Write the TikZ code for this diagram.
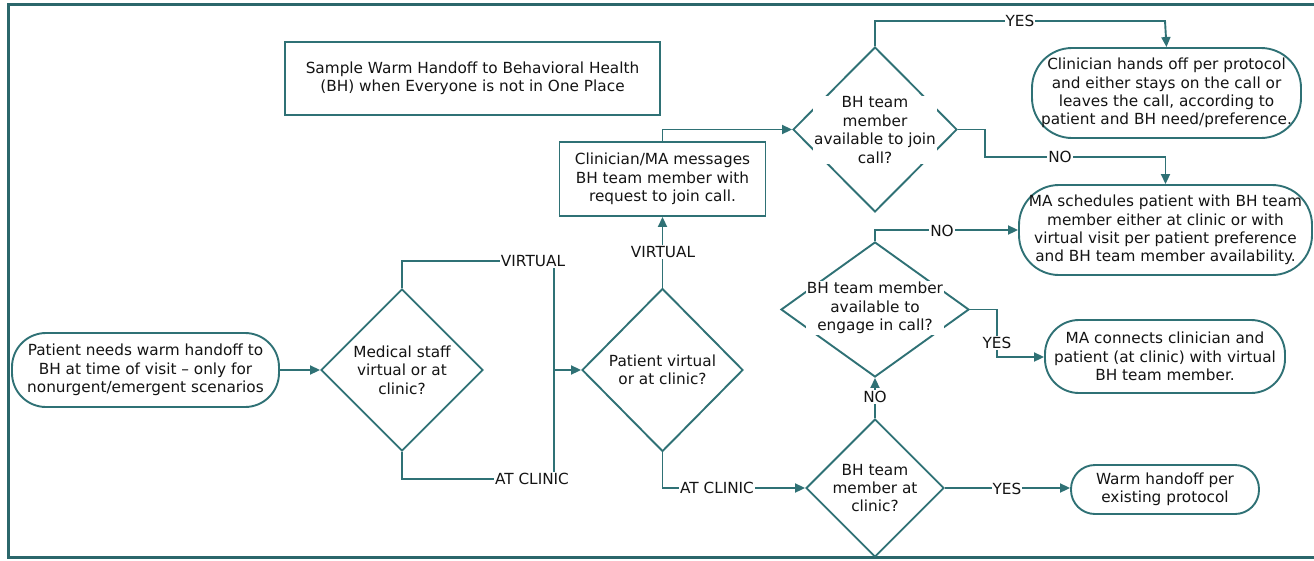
\documentclass[tikz,border=0pt]{standalone}
\usepackage{fontspec}
\setmainfont{DejaVu Sans}
\usetikzlibrary{shapes.geometric,arrows.meta}
\definecolor{teal1}{HTML}{2F7175}
\definecolor{frameC}{HTML}{2B676B}
\definecolor{txt}{HTML}{141414}
\begin{document}
\begin{tikzpicture}[x=1pt,y=-1pt,
  every node/.style={font=\fontsize{15.3}{18.4}\selectfont, text=txt, align=center},
  line/.style={draw=teal1, line width=1.9pt},
  arr/.style={line, -{Triangle[length=10pt,width=9pt]}},
  pill/.style={draw=teal1, line width=1.9pt, rounded corners=#1, inner sep=0pt, fill=white},
  boxx/.style={draw=teal1, line width=1.9pt, inner sep=0pt, fill=white},
  dia/.style={draw=teal1, line width=1.9pt, diamond, inner sep=0pt, fill=white},
  dtext/.style={fill=white, inner sep=1pt},
  lab/.style={fill=white, inner sep=1pt}]
\useasboundingbox (0,0) rectangle (1314,560);
\draw[draw=frameC, line width=3pt] (8,4) rectangle (1330,557);

% title
\node[boxx, minimum width=375pt, minimum height=73pt] (title) at (472.5,78.5)
  {Sample Warm Handoff to Behavioral Health\\(BH) when Everyone is not in One Place};

% pills
\node[pill=34pt, minimum width=267pt, minimum height=74pt] (start) at (145.5,370)
  {Patient needs warm handoff to\\BH at time of visit -- only for\\nonurgent/emergent scenarios};
\node[pill=40pt, minimum width=269pt, minimum height=90pt] (pa) at (1166.5,93)
  {Clinician hands off per protocol\\and either stays on the call or\\leaves the call, according to\\patient and BH need/preference.};
\node[pill=40pt, minimum width=293pt, minimum height=90pt] (pb) at (1165.5,230)
  {MA schedules patient with BH team\\member either at clinic or with\\virtual visit per patient preference\\and BH team member availability.};
\node[pill=34pt, minimum width=240pt, minimum height=73pt] (pc) at (1165,356.5)
  {MA connects clinician and\\patient (at clinic) with virtual\\BH team member.};
\node[pill=24pt, minimum width=188pt, minimum height=49pt] (pd) at (1165,489.5)
  {Warm handoff per\\existing protocol};

% request box
\node[boxx, minimum width=206pt, minimum height=74pt] (req) at (662.5,179)
  {Clinician/MA messages\\BH team member with\\request to join call.};

% diamonds
\node[dia, minimum width=162pt, minimum height=162pt] (d1) at (402,370) {};
\node[dia, minimum width=161pt, minimum height=163pt] (d2) at (662.5,370) {};
\node[dia, minimum width=164pt, minimum height=165pt] (d3) at (875,129.5) {};
\node[dia, minimum width=188pt, minimum height=135pt] (d5) at (875,309.5) {};
\node[dia, minimum width=138pt, minimum height=138pt] (d4) at (875,488) {};

% junction coordinates
\coordinate (j1) at (554,261);
\coordinate (j2) at (554,479);
\coordinate (j) at (554,370);
\coordinate (y3) at (1165,21);
\coordinate (n3a) at (985,129.5);
\coordinate (n3b) at (985,157);
\coordinate (y5) at (997,357);

% connectors
\draw[arr] (start.east) -- (d1.west);
\draw[line] (d1.north) |- (j1);
\draw[line] (d1.south) |- (j2);
\draw[line] (j1) -- (j2);
\draw[arr] (j) -- (d2.west);
\draw[arr] (d2.north) -- (req.south);
\draw[arr] (req.north) |- (d3.west);
\draw[arr] (d2.south) |- (d4.west);
\draw[arr] (d3.north) |- (y3) -- (pa.north);
\draw[arr] (d3.east) -- (n3a) -- (n3b) -| (pb.north);
\draw[arr] (d5.north) |- (pb.west);
\draw[arr] (d5.east) -| (y5) -- (pc.west |- y5);
\draw[arr] (d4.north) -- (d5.south);
\draw[arr] (d4.east) -- (d4.east -| pd.west);

% diamond texts
\node (t1) at (402,370) {Medical staff\\virtual or at\\clinic?};
\node (t2) at (662.5,370) {Patient virtual\\or at clinic?};
\node[dtext] (t3) at (875,130) {BH team\\member\\available to join\\call?};
\node[dtext] (t5) at (875,308) {BH team member\\available to\\engage in call?};
\node (t4) at (875,488) {BH team\\member at\\clinic?};

% labels
\node[lab] (l1) at (533,261) {VIRTUAL};
\node[lab] (l2) at (532,479) {AT CLINIC};
\node[lab] (l3) at (663,252) {VIRTUAL};
\node[lab] (l4) at (717,488) {AT CLINIC};
\node[lab] (l5) at (1020,21) {YES};
\node[lab] (l6) at (1060,157) {NO};
\node[lab] (l7) at (942,231) {NO};
\node[lab] (l8) at (997,343) {YES};
\node[lab] (l9) at (875,397) {NO};
\node[lab] (l10) at (1007,489) {YES};
\end{tikzpicture}
\end{document}
